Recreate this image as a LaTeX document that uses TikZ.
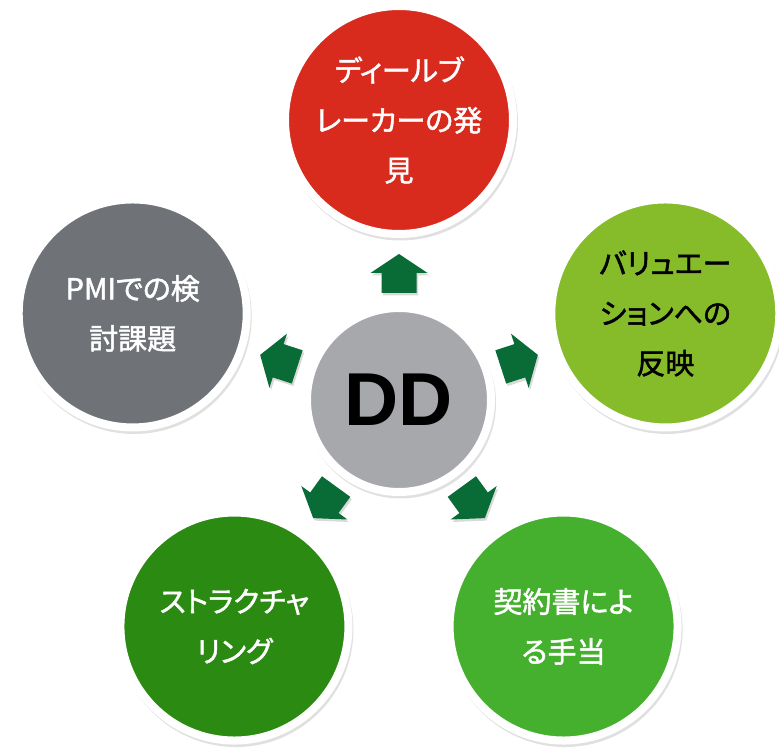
\documentclass[tikz,border=0pt]{standalone}
\usepackage{fontspec}
\setsansfont{Liberation Sans}
\newfontfamily\jpfont[RawFeature=+palt,FakeBold=1.6]{Noto Sans CJK JP}
\usetikzlibrary{calc}
\definecolor{cred}{HTML}{D92A1E}
\definecolor{clime}{HTML}{86BB2A}
\definecolor{cgreenA}{HTML}{45B02E}
\definecolor{cgreenB}{HTML}{2A8A12}
\definecolor{cgrayL}{HTML}{6F7378}
\definecolor{cgrayC}{HTML}{A7A8AB}
\definecolor{carrow}{HTML}{096B36}
\tikzset{
  outerc/.style={circle, draw=white, line width=8pt, minimum size=228pt, inner sep=0pt,
    align=center, text=white, font=\jpfont\fontsize{29}{50}\selectfont},
  centerc/.style={circle, draw=white, line width=8pt, minimum size=184pt, inner sep=0pt,
    fill=cgrayC, font=\sffamily\bfseries\fontsize{75}{80}\selectfont},
  shadowc/.style={fill=black, opacity=0.12},
}
\begin{document}
\begin{tikzpicture}[x=1pt,y=1pt]
\useasboundingbox (0,0) rectangle (779,747);
\coordinate (C) at (399,347);
% shadows
\foreach \a in {90,18,-54,-126,162}{
  \fill[shadowc] ($(C)+(\a:280)+(1.5,-3)$) circle (117.5);
}
\fill[shadowc] ($(C)+(1.5,-3)$) circle (95.5);
% outer circles
\node[outerc, fill=cred]   (top)   at ($(C)+(90:280)$)  {ディールブ\\レーカーの発\\見};
\node[outerc, fill=clime, text=black] (right) at ($(C)+(18:280)$) {バリュエー\\ションへの\\反映};
\node[outerc, fill=cgreenA] (bright) at ($(C)+(-54:280)$) {契約書によ\\る手当};
\node[outerc, fill=cgreenB] (bleft) at ($(C)+(-126:280)$) {ストラクチャ\\リング};
\node[outerc, fill=cgrayL]  (left)  at ($(C)+(162:280)$) {PMIでの検\\討課題};
% center
\node[centerc] (dd) at (C) {DD};
% arrows
\foreach \a in {90,18,-54,-126,162}{
  \begin{scope}[shift={($(C)+(1.5,-2.5)$)}, rotate=\a]
    \fill[black, opacity=0.15] (107,-17.5) -- (127,-17.5) -- (127,-28.5) -- (146,0) -- (127,28.5) -- (127,17.5) -- (107,17.5) -- cycle;
  \end{scope}
  \begin{scope}[shift={(C)}, rotate=\a]
    \fill[carrow] (107,-17.5) -- (127,-17.5) -- (127,-28.5) -- (146,0) -- (127,28.5) -- (127,17.5) -- (107,17.5) -- cycle;
  \end{scope}
}
\end{tikzpicture}
\end{document}
